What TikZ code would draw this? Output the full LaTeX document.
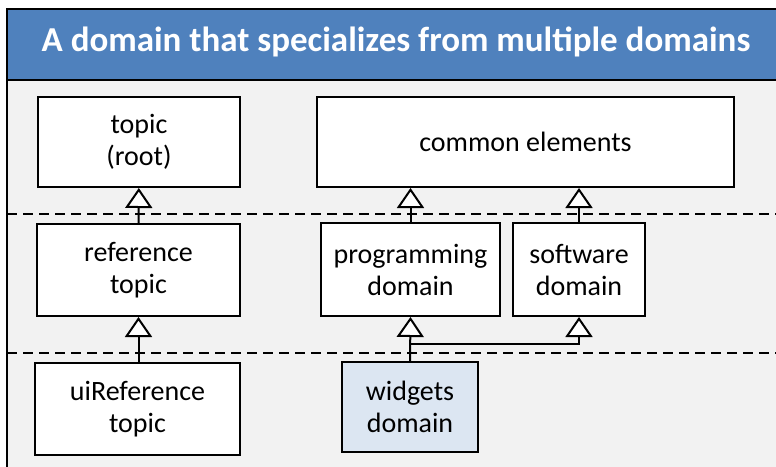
\documentclass[tikz,border=0pt]{standalone}
\usepackage{fontspec}
\setmainfont{Carlito}
\usetikzlibrary{positioning, arrows.meta, calc, backgrounds}
\definecolor{hdrblue}{HTML}{4F81BD}
\definecolor{panelgray}{HTML}{F2F2F2}
\definecolor{widgetblue}{HTML}{DCE6F2}

\begin{document}
\begin{tikzpicture}[
    % Global Styles
    x=1pt, y=-1pt,
    font=\fontsize{28}{32}\selectfont,
    % Style for the class boxes
    box/.style={draw=black, line width=2pt, fill=white, align=center, inner sep=0pt},
    % Style for the specialization arrows
    inherit/.style={-{Triangle[width=27pt, length=20pt, fill=white, line width=2pt]}, line width=2pt},
    % Style for the tier separators
    tierline/.style={line width=2pt, dash pattern=on 10pt off 6pt},
    % Style for the heading
    heading/.style={font=\fontsize{35}{40}\selectfont\bfseries, text=white, xscale=1.0}
]
\useasboundingbox (0,0) rectangle (776,466);

%% --- PANEL ---
\fill[panelgray] (7,80) rectangle (780,470);
\fill[hdrblue] (7,9) rectangle (780,80);
\draw[line width=2pt] (780,9) -- (7,9) -- (7,470);
\draw[line width=2pt] (7,80) -- (780,80);
\node[heading] (title) at (396,42) {A domain that specializes from multiple domains};

% Tier separators
\draw[tierline] (7,214) -- (780,214);
\draw[tierline] (7,353) -- (780,353);

%% --- TIER 1: ROOTS ---
\node[box, minimum width=202pt, minimum height=90pt] (topic) at (139,142) {topic\\(root)};
\node[box, minimum width=417pt, minimum height=90pt] (common) at (525.5,142) {common elements};

%% --- TIER 2: BASE SPECIALIZATIONS ---
\node[box, minimum width=203pt, minimum height=92pt] (reftopic) at (138.5,270) {reference\\topic};
\node[box, minimum width=179pt, minimum height=93pt] (progdomain) at (410.5,269.5) {programming\\domain};
\node[box, minimum width=132pt, minimum height=93pt] (softdomain) at (579,269.5) {software\\domain};

%% --- TIER 3: DERIVED SPECIALIZATIONS ---
\node[box, minimum width=205pt, minimum height=92pt] (uireftopic) at (137.5,409) {uiReference\\topic};
\node[box, fill=widgetblue, minimum width=136pt, minimum height=90pt] (widgets) at (410,407) {widgets\\domain};

%% --- SPECIALIZATION ARROWS ---
\draw[inherit] (reftopic) -- (topic);
\draw[inherit] (uireftopic.north -| reftopic) -- (reftopic);
\draw[inherit] (progdomain.north) -- (progdomain.north |- common.south);
\draw[inherit] (softdomain.north) -- (softdomain.north |- common.south);

% widgets specializes from both domains
\coordinate (split) at ($(widgets.north)+(0,-17)$);
\draw[inherit] (widgets.north) -- (progdomain.south);
\draw[inherit] (split) -| (softdomain.south);

\end{tikzpicture}
\end{document}
